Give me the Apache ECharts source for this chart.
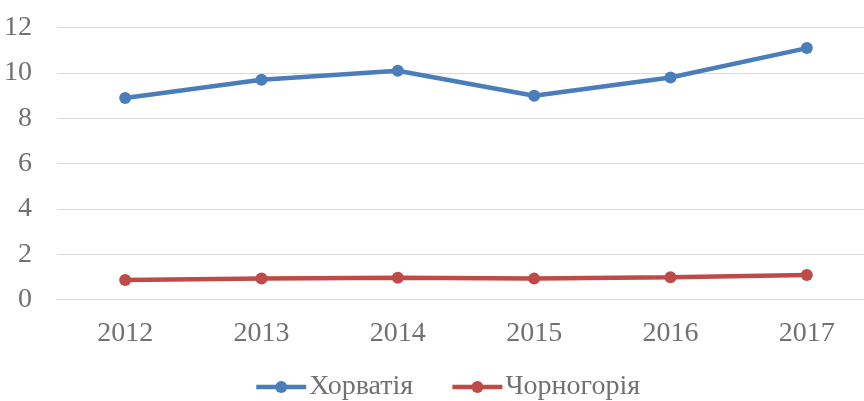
<!DOCTYPE html>
<html>
<head>
<meta charset="utf-8">
<script src="https://cdn.jsdelivr.net/npm/echarts@6/dist/echarts.min.js"></script>
<style>
html,body{margin:0;padding:0;background:#fff;overflow:hidden;}
#chart{width:875px;height:401px;}
</style>
</head>
<body>
<div id="chart"></div>
<script>
const categories = ['2012', '2013', '2014', '2015', '2016', '2017'];
const croatia = [8.9, 9.7, 10.1, 9.0, 9.8, 11.1];
const montenegro = [0.87, 0.94, 0.97, 0.93, 0.99, 1.09];
const seriesNames = ['Хорватія', 'Чорногорія'];

const font = '"Liberation Serif", "Times New Roman", serif';
const textColor = '#717171';

const chart = echarts.init(document.getElementById('chart'), null, {renderer: 'canvas'});
chart.setOption({
  animation: false,
  backgroundColor: '#ffffff',
  grid: {left: 57, right: 0, top: 27.7, bottom: 101.3, containLabel: false},
  legend: {
    left: 249,
    top: 368,
    itemWidth: 50,
    itemHeight: 15,
    itemGap: 37,
    data: seriesNames,
    lineStyle: {width: 4.5},
    textStyle: {fontFamily: font, fontSize: 28, color: textColor, padding: [0, 0, 0, -2]}
  },
  xAxis: {
    type: 'category',
    data: categories,
    axisLine: {show: true, lineStyle: {color: '#D9D9D9', width: 1}},
    axisTick: {show: false},
    axisLabel: {fontFamily: font, fontSize: 28, color: textColor, margin: 20}
  },
  yAxis: {
    type: 'value',
    min: 0,
    max: 12,
    interval: 2,
    axisLine: {show: false},
    axisTick: {show: false},
    splitLine: {lineStyle: {color: '#D9D9D9', width: 1}},
    axisLabel: {fontFamily: font, fontSize: 28, color: textColor, margin: 25}
  },
  series: [
    {
      name: seriesNames[0],
      type: 'line',
      data: croatia,
      symbol: 'circle',
      symbolSize: 12,
      color: '#4A7EBB',
      lineStyle: {width: 4.5, color: '#4A7EBB'},
      itemStyle: {color: '#4A7EBB'}
    },
    {
      name: seriesNames[1],
      type: 'line',
      data: montenegro,
      symbol: 'circle',
      symbolSize: 12,
      color: '#BE4B48',
      lineStyle: {width: 4.5, color: '#BE4B48'},
      itemStyle: {color: '#BE4B48'}
    }
  ]
});
</script>
</body>
</html>
